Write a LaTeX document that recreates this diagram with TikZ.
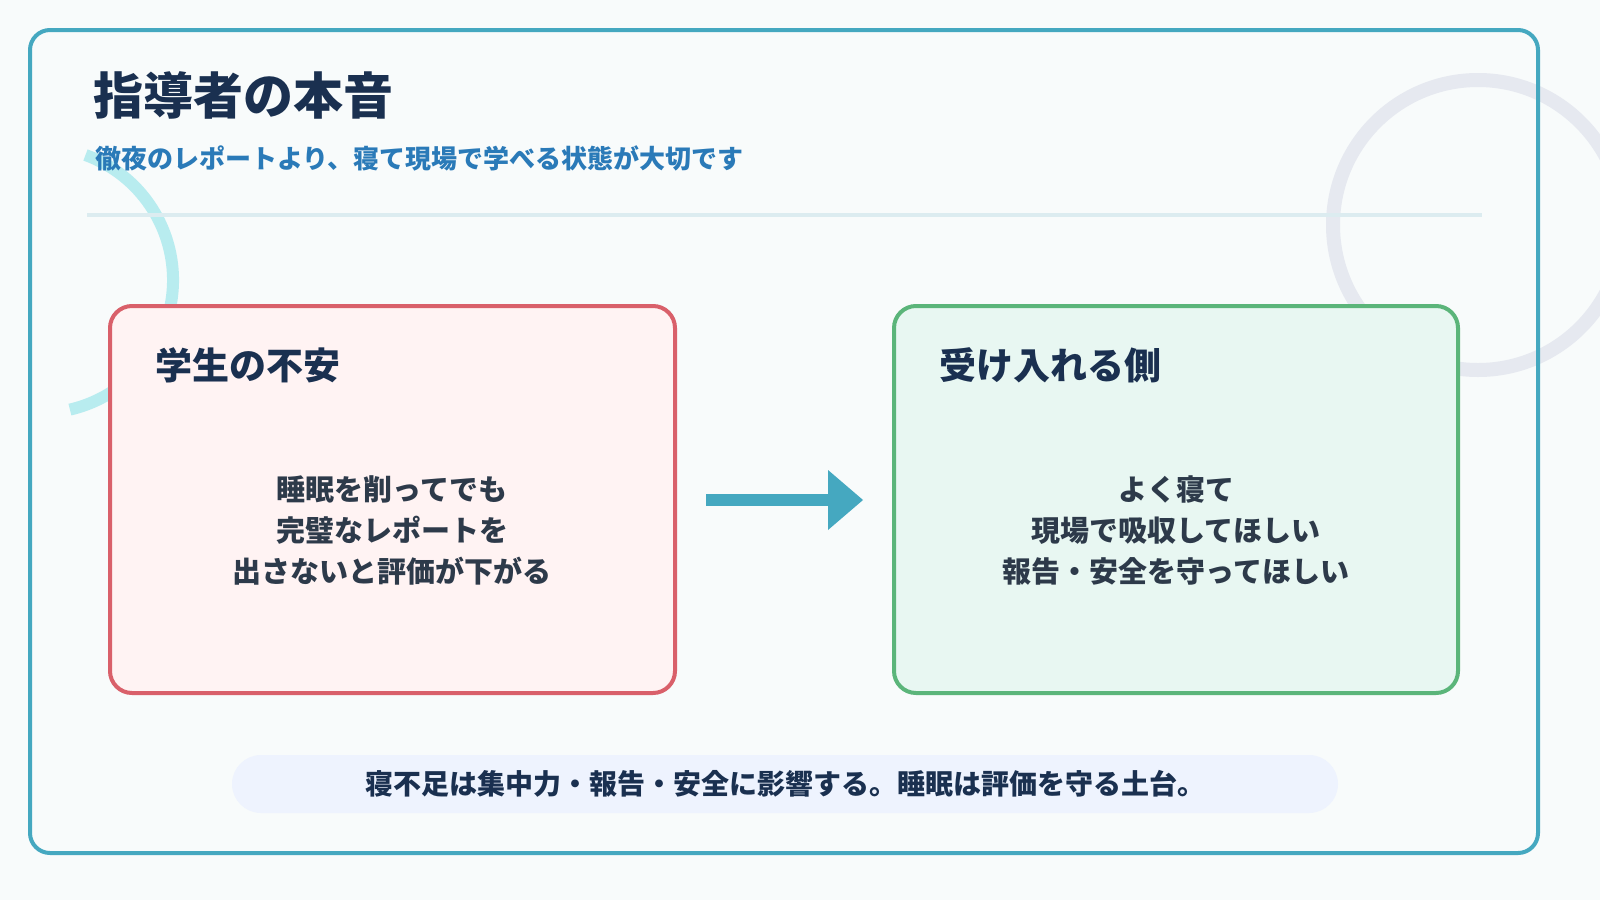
\documentclass[tikz,border=0pt]{standalone}
\usepackage{fontspec}
\setmainfont{Noto Sans CJK JP}
\definecolor{bg}{HTML}{F8FBFB}
\definecolor{frame}{HTML}{45A8C0}
\definecolor{navy}{HTML}{1A3050}
\definecolor{subblue}{HTML}{2A7AB8}
\definecolor{rule}{HTML}{DCECF0}
\definecolor{cyanring}{HTML}{B8ECEF}
\definecolor{grayring}{HTML}{E6E9F0}
\definecolor{redline}{HTML}{D9606A}
\definecolor{redfill}{HTML}{FFF3F3}
\definecolor{greenline}{HTML}{5BB57A}
\definecolor{greenfill}{HTML}{E8F7F2}
\definecolor{body}{HTML}{2D3A4A}
\definecolor{pill}{HTML}{EEF3FE}
\begin{document}
\begin{tikzpicture}[x=0.5pt,y=-0.5pt,
  card/.style={rounded corners=11pt,line width=2pt},
  cardtitle/.style={anchor=west,font=\fontsize{18.5}{22}\selectfont\bfseries,text=navy},
  cardbody/.style={align=center,font=\fontsize{14.5}{20.5}\selectfont\bfseries,text=body}]
\useasboundingbox (0,0) rectangle (1600,900);
\fill[bg] (0,0) rectangle (1600,900);
\begin{scope}
\clip (0,0) rectangle (1600,900);
\draw[grayring,line width=7pt] (1478,225) circle[radius=145];
\end{scope}
\draw[cyanring,line width=6pt] (40,280) ++(-70:133) arc[start angle=-70,end angle=77,radius=133];
\draw[frame,line width=2pt,rounded corners=10pt] (30,30) rectangle (1538,853);
\node[anchor=west,font=\fontsize{25}{30}\selectfont\bfseries,text=navy] (title) at (86,95) {指導者の本音};
\node[anchor=west,font=\fontsize{13}{16}\selectfont\bfseries,text=subblue] (sub) at (88,158) {徹夜のレポートより、寝て現場で学べる状態が大切です};
\draw[rule,line width=2pt] (87,215) coordinate (r1) -- (1482,215) coordinate (r2);
\draw[card,draw=redline,fill=redfill] (110,306) rectangle (675,693);
\node[cardtitle] (lt) at (148,365) {学生の不安};
\node[cardbody] (lb) at (392,530) {睡眠を削ってでも\\完璧なレポートを\\出さないと評価が下がる};
\draw[card,draw=greenline,fill=greenfill] (894,306) rectangle (1458,693);
\node[cardtitle] (rt) at (932,365) {受け入れる側};
\node[cardbody] (rb) at (1176,530) {よく寝て\\現場で吸収してほしい\\報告・安全を守ってほしい};
\coordinate (a1) at (706,500); \coordinate (a2) at (832,500);
\draw[frame,line width=6pt] (a1) -- (a2);
\fill[frame] (828,470) -- (863,500) -- (828,530) -- cycle;
\fill[pill,rounded corners=14.5pt] (232,755) rectangle (1338,813);
\node[font=\fontsize{14}{17}\selectfont\bfseries,text=navy] (foot) at (785,784) {寝不足は集中力・報告・安全に影響する。睡眠は評価を守る土台。};
\end{tikzpicture}
\end{document}
